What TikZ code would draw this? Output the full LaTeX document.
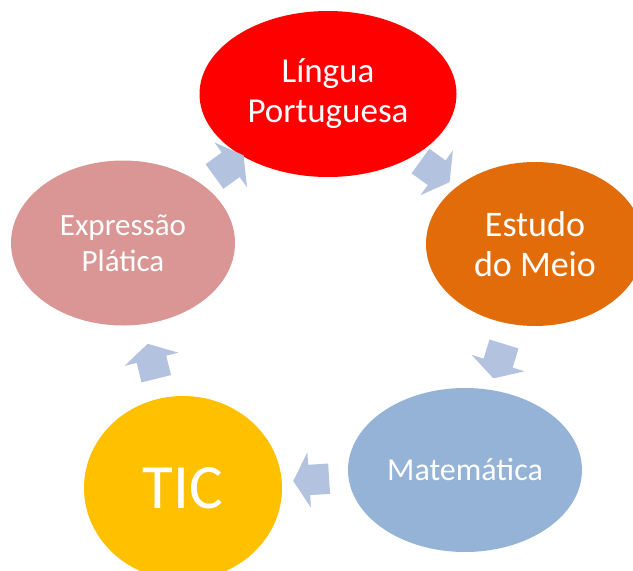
\documentclass[tikz,border=0pt]{standalone}
\usepackage{fontspec}
\setmainfont{Carlito}
\usetikzlibrary{shapes.geometric, shapes.arrows}
\definecolor{corLP}{HTML}{FF0000}
\definecolor{corEM}{HTML}{E36C0A}
\definecolor{corMat}{HTML}{95B3D7}
\definecolor{corTIC}{HTML}{FFC000}
\definecolor{corEP}{HTML}{D99694}
\definecolor{corSeta}{HTML}{B3C3DF}
\tikzset{
    disciplina/.style={ellipse, inner sep=0pt, text=white, align=center}, % elipses das disciplinas
    seta/.style={single arrow, fill=corSeta, inner xsep=0pt, inner ysep=15pt,
        minimum height=36pt, single arrow head extend=12.5pt,
        single arrow tip angle=120, sloped, allow upside down}, % setas do ciclo
}

\begin{document}
\begin{tikzpicture}[x=1pt, y=-1pt]
        \useasboundingbox (0,0) rectangle (633,571);
        \clip (0,0) rectangle (633,571);
        % Disciplinas
        \node[disciplina, fill=corLP, minimum width=257pt, minimum height=166pt,
            font=\fontsize{35}{40}\selectfont] (lingua) at (328,94) {Língua\\Portuguesa};
        \node[disciplina, fill=corEM, minimum width=218pt, minimum height=164pt,
            font=\fontsize{36}{40}\selectfont] (estudo) at (535,244) {Estudo\\do Meio};
        \node[disciplina, fill=corMat, minimum width=234pt, minimum height=164pt,
            font=\fontsize{32}{36}\selectfont] (matematica) at (465,470) {Matemática};
        \node[disciplina, fill=corTIC, minimum width=198pt, minimum height=184pt,
            font=\fontsize{63}{70}\selectfont] (tic) at (183,488) {TIC};
        \node[disciplina, fill=corEP, minimum width=224pt, minimum height=165pt,
            font=\fontsize{31}{36}\selectfont] (expressao) at (123,243) {Expressão\\Plática};

        % Setas
        \path (lingua.center) -- node[seta] {} (estudo.center)
            (estudo.center) -- node[seta] {} (matematica.center)
            (matematica.center) -- node[seta, pos=.53] {} (tic.center)
            (tic.center) -- node[seta] {} (expressao.center)
            (expressao.center) -- node[seta] {} (lingua.center);
        \end{tikzpicture}
\end{document}
